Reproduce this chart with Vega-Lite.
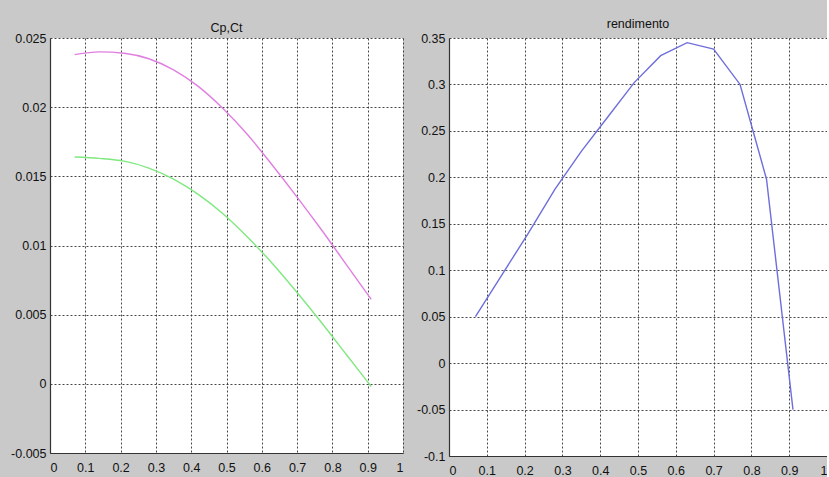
{
  "$schema": "https://vega.github.io/schema/vega-lite/v6.json",
  "background": "#c9c9c9",
  "padding": {"left": 10, "top": 17, "right": 0, "bottom": 0},
  "spacing": 13,
  "config": {
    "view": {"stroke": null, "fill": "white"},
    "font": "Liberation Sans",
    "axis": {
      "grid": true, "gridColor": "#333333", "gridDash": [2, 2], "gridOpacity": 0.9, "gridWidth": 1,
      "domainColor": "#333333", "domainWidth": 1.2,
      "ticks": false, "tickSize": 0,
      "labelFont": "Liberation Sans", "labelFontSize": 12.5, "labelColor": "#111111", "labelPadding": 4,
      "title": null
    },
    "title": {"font": "Liberation Sans", "fontSize": 12.5, "fontWeight": "normal", "color": "#111111"}
  },
  "datasets": {
    "coef": [
      {"J": 0.07, "v": 0.0238, "s": "Cp"},
      {"J": 0.14, "v": 0.0240, "s": "Cp"},
      {"J": 0.21, "v": 0.0239, "s": "Cp"},
      {"J": 0.28, "v": 0.0235, "s": "Cp"},
      {"J": 0.35, "v": 0.0227, "s": "Cp"},
      {"J": 0.42, "v": 0.0215, "s": "Cp"},
      {"J": 0.49, "v": 0.0199, "s": "Cp"},
      {"J": 0.56, "v": 0.0180, "s": "Cp"},
      {"J": 0.63, "v": 0.0158, "s": "Cp"},
      {"J": 0.70, "v": 0.0135, "s": "Cp"},
      {"J": 0.77, "v": 0.0111, "s": "Cp"},
      {"J": 0.84, "v": 0.0086, "s": "Cp"},
      {"J": 0.91, "v": 0.0061, "s": "Cp"},
      {"J": 0.07, "v": 0.0164, "s": "Ct"},
      {"J": 0.14, "v": 0.0163, "s": "Ct"},
      {"J": 0.21, "v": 0.0161, "s": "Ct"},
      {"J": 0.28, "v": 0.0156, "s": "Ct"},
      {"J": 0.35, "v": 0.0148, "s": "Ct"},
      {"J": 0.42, "v": 0.0137, "s": "Ct"},
      {"J": 0.49, "v": 0.0123, "s": "Ct"},
      {"J": 0.56, "v": 0.0106, "s": "Ct"},
      {"J": 0.63, "v": 0.0087, "s": "Ct"},
      {"J": 0.70, "v": 0.0066, "s": "Ct"},
      {"J": 0.77, "v": 0.0044, "s": "Ct"},
      {"J": 0.84, "v": 0.0021, "s": "Ct"},
      {"J": 0.91, "v": -0.0002, "s": "Ct"}
    ],
    "eta": [
      {"J": 0.07, "v": 0.050},
      {"J": 0.14, "v": 0.095},
      {"J": 0.21, "v": 0.140},
      {"J": 0.28, "v": 0.187},
      {"J": 0.35, "v": 0.228},
      {"J": 0.42, "v": 0.265},
      {"J": 0.49, "v": 0.302},
      {"J": 0.56, "v": 0.331},
      {"J": 0.63, "v": 0.345},
      {"J": 0.70, "v": 0.338},
      {"J": 0.77, "v": 0.300},
      {"J": 0.84, "v": 0.198},
      {"J": 0.91, "v": -0.050}
    ]
  },
  "hconcat": [
    {
      "title": {"text": "Cp,Ct", "offset": -2},
      "width": 353,
      "height": 415,
      "data": {"name": "coef"},
      "mark": {"type": "line", "interpolate": "monotone", "strokeWidth": 1.4},
      "encoding": {
        "x": {"field": "J", "type": "quantitative",
              "scale": {"domain": [0, 1], "nice": false, "zero": false},
              "axis": {"values": [0, 0.1, 0.2, 0.3, 0.4, 0.5, 0.6, 0.7, 0.8, 0.9, 1], "labelExpr": "'' + datum.value", "labelPadding": 8}},
        "y": {"field": "v", "type": "quantitative",
              "scale": {"domain": [-0.005, 0.025], "nice": false, "zero": false},
              "axis": {"values": [-0.005, 0, 0.005, 0.01, 0.015, 0.02, 0.025], "labelExpr": "'' + datum.value"}},
        "color": {"field": "s", "type": "nominal",
                  "scale": {"domain": ["Cp", "Ct"], "range": ["#e07fe0", "#7fe87f"]},
                  "legend": null}
      }
    },
    {
      "title": {"text": "rendimento", "offset": 2},
      "width": 378,
      "height": 418,
      "data": {"name": "eta"},
      "mark": {"type": "line", "strokeWidth": 1.4, "color": "#6e6edc"},
      "encoding": {
        "x": {"field": "J", "type": "quantitative",
              "scale": {"domain": [0, 1], "nice": false, "zero": false},
              "axis": {"values": [0, 0.1, 0.2, 0.3, 0.4, 0.5, 0.6, 0.7, 0.8, 0.9, 1], "labelExpr": "'' + datum.value", "labelPadding": 8}},
        "y": {"field": "v", "type": "quantitative",
              "scale": {"domain": [-0.1, 0.35], "nice": false, "zero": false},
              "axis": {"values": [-0.1, -0.05, 0, 0.05, 0.1, 0.15, 0.2, 0.25, 0.3, 0.35], "labelExpr": "'' + datum.value"}}
      }
    }
  ]
}
